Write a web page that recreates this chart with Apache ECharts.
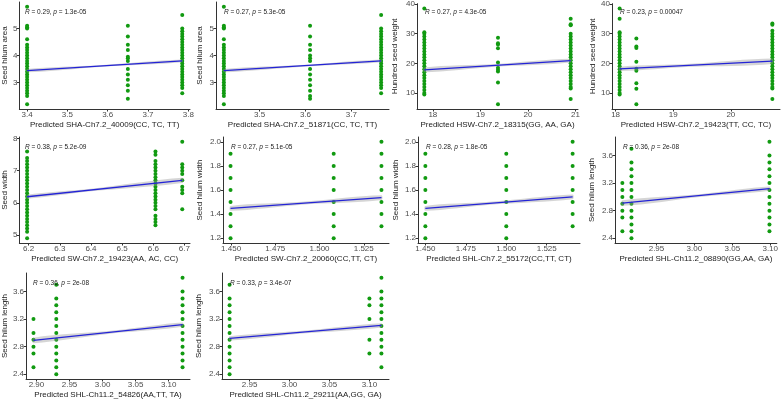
<!DOCTYPE html>
<html>
<head>
<meta charset="utf-8">
<script src="https://cdn.jsdelivr.net/npm/echarts@6/dist/echarts.min.js"></script>
<style>
	html, body { margin: 0; padding: 0; background: #fff; }
	#chart { width: 781px; height: 400px; }
</style>
</head>
<body>
<div id="chart"></div>
<script>
// x values are the predicted genotype means, y lists are the observed values per genotype
const p1X = [3.40, 3.65, 3.785];
const p1Y = [
	[2.2, 2.5, 2.6, 2.7, 2.8, 2.9, 3.0, 3.1, 3.2, 3.3, 3.4, 3.5, 3.6, 3.7, 3.8, 3.9, 4.0, 4.1, 4.2, 4.3, 4.4, 4.6, 5.0, 5.05, 5.1, 5.8],
	[2.4, 2.7, 2.9, 3.1, 3.3, 3.5, 3.8, 3.9, 3.95, 4.2, 4.4, 4.7, 5.1],
	[2.6, 2.8, 2.9, 3.0, 3.1, 3.2, 3.3, 3.4, 3.5, 3.6, 3.7, 3.8, 3.9, 4.0, 4.1, 4.2, 4.3, 4.4, 4.5, 4.6, 4.7, 4.8, 4.9, 5.0, 5.5],
];
const p2X = [3.422, 3.61, 3.765];
const p2Y = [
	[2.2, 2.5, 2.6, 2.7, 2.8, 2.9, 3.0, 3.1, 3.2, 3.3, 3.4, 3.5, 3.6, 3.7, 3.8, 3.9, 4.0, 4.1, 4.2, 4.3, 4.4, 4.6, 5.0, 5.05, 5.1, 5.8],
	[2.4, 2.5, 2.7, 2.9, 3.1, 3.3, 3.5, 3.8, 3.9, 4.0, 4.2, 4.4, 4.7, 5.1],
	[2.6, 2.8, 2.9, 3.0, 3.1, 3.2, 3.3, 3.4, 3.5, 3.6, 3.7, 3.8, 3.9, 4.0, 4.1, 4.2, 4.3, 4.4, 4.5, 4.6, 4.7, 4.8, 4.9, 5.0, 5.5],
];
const p3X = [17.82, 19.37, 20.9];
const p3Y = [
	[9.5, 10, 11, 12, 13, 14, 15, 16, 17, 18, 19, 20, 21, 22, 23, 24, 25, 26, 27, 28, 29, 30, 30.5, 38.5],
	[6.2, 13.5, 17.2, 17.8, 18.5, 20.3, 25.1, 26.3, 26.8, 28.6],
	[8, 11.5, 12, 13, 14, 15, 16, 17, 18, 19, 20, 21, 22, 23, 24, 25, 26, 27, 28, 29, 30, 32.8, 33.2, 35],
];
const p4X = [18.07, 18.36, 20.72];
const p4Y = [
	[9.5, 10, 11, 12, 13, 14, 15, 16, 17, 18, 19, 20, 21, 22, 23, 24, 25, 26, 27, 28, 29, 30, 30.5, 35, 38.5],
	[6.2, 11.4, 13.3, 17.5, 18.2, 20.5, 25.2, 25.7, 28.4],
	[8, 11.5, 12, 13, 14, 15, 16, 17, 18, 19, 20, 21, 22, 23, 24, 25, 26, 27, 28, 29, 30, 31, 33, 33.4],
];
const p5X = [6.195, 6.607, 6.693];
const p5Y = [
	[4.9, 5.1, 5.2, 5.3, 5.4, 5.5, 5.6, 5.7, 5.8, 5.9, 6.0, 6.1, 6.2, 6.3, 6.4, 6.5, 6.6, 6.7, 6.8, 6.9, 7.0, 7.1, 7.2, 7.3, 7.4, 7.6],
	[5.3, 5.4, 5.5, 5.6, 5.8, 5.9, 6.0, 6.1, 6.2, 6.3, 6.4, 6.5, 6.6, 6.7, 6.8, 6.9, 7.0, 7.1, 7.2, 7.3, 7.5, 7.6],
	[5.8, 6.3, 6.4, 6.5, 6.7, 6.9, 7.0, 7.1, 7.2, 7.9],
];
const p6X = [1.4497, 1.508, 1.535];
const p6Y = [
	[1.2, 1.3, 1.4, 1.5, 1.6, 1.7, 1.8, 1.9],
	[1.2, 1.3, 1.4, 1.5, 1.6, 1.7, 1.8, 1.9],
	[1.3, 1.4, 1.5, 1.6, 1.7, 1.8, 1.9, 2.0],
];
const p7X = [1.450, 1.500, 1.541];
const p7Y = [
	[1.2, 1.3, 1.4, 1.5, 1.6, 1.7, 1.8, 1.9],
	[1.2, 1.3, 1.4, 1.5, 1.6, 1.7, 1.8, 1.9],
	[1.3, 1.4, 1.5, 1.6, 1.7, 1.8, 1.9, 2.0],
];
const p8X = [2.905, 2.917, 3.099];
const p8Y = [
	[2.5, 2.7, 2.8, 2.9, 3.0, 3.1, 3.2],
	[2.4, 2.5, 2.6, 2.7, 2.8, 2.9, 3.0, 3.1, 3.2, 3.3, 3.4, 3.5, 3.7],
	[2.5, 2.6, 2.7, 2.8, 2.9, 3.0, 3.1, 3.2, 3.3, 3.4, 3.5, 3.6, 3.8],
];
const p9X = [2.8955, 2.930, 3.121];
const p9Y = [
	[2.5, 2.7, 2.8, 2.9, 3.0, 3.2],
	[2.4, 2.5, 2.6, 2.7, 2.8, 2.9, 3.0, 3.1, 3.2, 3.3, 3.4, 3.5, 3.7],
	[2.5, 2.6, 2.7, 2.8, 2.9, 3.0, 3.1, 3.2, 3.3, 3.4, 3.5, 3.6, 3.8],
];
const p10X = [2.925, 3.100, 3.115];
const p10Y = [
	[2.4, 2.5, 2.6, 2.7, 2.8, 2.9, 3.0, 3.1, 3.2, 3.3, 3.4, 3.5, 3.7],
	[2.7, 2.9, 3.2, 3.4, 3.5],
	[2.5, 2.7, 2.8, 2.9, 3.0, 3.1, 3.2, 3.3, 3.4, 3.5, 3.6, 3.8],
];

// fitted y at the first and last x
const fits = [
	[3.44, 3.80], [3.44, 3.80], [17.8, 20.9], [18.1, 20.7], [6.19, 6.70],
	[1.448, 1.537], [1.448, 1.543], [2.91, 3.12], [2.89, 3.12], [2.92, 3.11],
];
// confidence band: [x, half width]
const bands = [
	[[3.40, 0.06], [3.58, 0.03], [3.785, 0.05]],
	[[3.422, 0.06], [3.60, 0.03], [3.765, 0.05]],
	[[17.82, 0.8], [19.3, 0.45], [20.9, 0.6]],
	[[18.07, 0.7], [19.3, 0.5], [20.72, 0.9]],
	[[6.195, 0.06], [6.40, 0.04], [6.693, 0.08]],
	[[1.4497, 0.02], [1.49, 0.012], [1.535, 0.02]],
	[[1.450, 0.02], [1.49, 0.012], [1.541, 0.02]],
	[[2.905, 0.04], [3.01, 0.02], [3.099, 0.03]],
	[[2.8955, 0.04], [3.02, 0.02], [3.121, 0.03]],
	[[2.925, 0.03], [3.02, 0.02], [3.115, 0.03]],
];
const statR = ["0.29", "0.27", "0.27", "0.23", "0.38", "0.27", "0.28", "0.36", "0.36", "0.33"];
const statP = ["1.3e-05", "5.3e-05", "4.3e-05", "0.00047", "5.2e-09", "5.1e-05", "1.8e-05", "2e-08", "2e-08", "3.4e-07"];
const xNames = [
	"Predicted SHA-Ch7.2_40009(CC, TC, TT)",
	"Predicted SHA-Ch7.2_51871(CC, TC, TT)",
	"Predicted HSW-Ch7.2_18315(GG, AA, GA)",
	"Predicted HSW-Ch7.2_19423(TT, CC, TC)",
	"Predicted SW-Ch7.2_19423(AA, AC, CC)",
	"Predicted SW-Ch7.2_20060(CC,TT, CT)",
	"Predicted SHL-Ch7.2_55172(CC,TT, CT)",
	"Predicted SHL-Ch11.2_08890(GG,AA, GA)",
	"Predicted SHL-Ch11.2_54826(AA,TT, TA)",
	"Predicted SHL-Ch11.2_29211(AA,GG, GA)",
];
const yNames = [
	"Seed hilum area", "Seed hilum area", "Hundred seed weight", "Hundred seed weight", "Seed width",
	"Seed hilum width", "Seed hilum width", "Seed hilum length", "Seed hilum length", "Seed hilum length",
];
const xTicks = [
	[3.4, 3.5, 3.6, 3.7, 3.8], [3.5, 3.6, 3.7], [18, 19, 20, 21], [18, 19, 20], [6.2, 6.3, 6.4, 6.5, 6.6, 6.7],
	[1.450, 1.475, 1.500, 1.525], [1.450, 1.475, 1.500, 1.525], [2.95, 3.00, 3.05, 3.10],
	[2.90, 2.95, 3.00, 3.05, 3.10], [2.95, 3.00, 3.05, 3.10],
];
const yTicks = [
	[3, 4, 5], [3, 4, 5], [10, 20, 30, 40], [10, 20, 30, 40], [5, 6, 7, 8],
	[1.2, 1.4, 1.6, 1.8, 2.0], [1.2, 1.4, 1.6, 1.8, 2.0], [2.4, 2.8, 3.2, 3.6], [2.4, 2.8, 3.2, 3.6], [2.4, 2.8, 3.2, 3.6],
];
const xDec = [1, 1, 0, 0, 1, 3, 3, 2, 2, 2];
const yDec = [0, 0, 0, 0, 0, 1, 1, 1, 1, 1];

// layout: [left, top, width, height, y title distance]
const boxes = [
	[17, 2, 173, 107, 12], [216, 2, 173, 107, 16], [417, 2, 161, 107, 22], [612, 2, 168, 107, 19],
	[17, 137, 173, 106, 12], [223, 137, 166, 106, 23], [418, 137, 162, 106, 22], [615, 137, 165, 106, 23],
	[25, 273, 165, 106, 21], [222, 273, 167, 106, 23],
];

const panelX = [p1X, p2X, p3X, p4X, p5X, p6X, p7X, p8X, p9X, p10X];
const panelY = [p1Y, p2Y, p3Y, p4Y, p5Y, p6Y, p7Y, p8Y, p9Y, p10Y];

const FONT = "Liberation Sans, Arial, sans-serif";
const grids = [], xAxes = [], yAxes = [], series = [], titles = [];

function padRange(values) {
	// ggplot style 5% expansion
	const lo = Math.min(...values), hi = Math.max(...values);
	const pad = (hi - lo) * 0.05;
	return [lo - pad, hi + pad];
}

panelX.forEach((xs, i) => {
	const ys = panelY[i];
	const box = boxes[i];
	const xr = padRange(xs);
	const yr = padRange(ys.flat());
	const fit = fits[i];
	const fitAt = (x) => fit[0] + (fit[1] - fit[0]) * (x - xs[0]) / (xs[xs.length - 1] - xs[0]);

	grids.push({ left: box[0], top: box[1], width: box[2], height: box[3] });
	xAxes.push({
		gridIndex: i, type: "value", min: xr[0], max: xr[1],
		axisLine: { show: true, onZero: false, lineStyle: { color: "#333", width: 1 } },
		axisTick: { show: true, length: 2.5, customValues: xTicks[i], lineStyle: { color: "#333" } },
		axisLabel: {
			customValues: xTicks[i], formatter: (v) => v.toFixed(xDec[i]),
			fontSize: 8, color: "#4d4d4d", margin: 2, fontFamily: FONT,
		},
		splitLine: { show: false },
		name: xNames[i], nameLocation: "middle", nameGap: 12,
		nameTextStyle: { fontSize: 8, color: "#1a1a1a", fontFamily: FONT },
	});
	yAxes.push({
		gridIndex: i, type: "value", min: yr[0], max: yr[1],
		axisLine: { show: true, onZero: false, lineStyle: { color: "#333", width: 1 } },
		axisTick: { show: true, length: 2.5, customValues: yTicks[i], lineStyle: { color: "#333" } },
		axisLabel: {
			customValues: yTicks[i], formatter: (v) => v.toFixed(yDec[i]),
			fontSize: 8, color: "#4d4d4d", margin: 2, fontFamily: FONT,
		},
		splitLine: { show: false },
		name: yNames[i], nameLocation: "middle", nameGap: box[4] - 4,
		nameTextStyle: { fontSize: 8, color: "#1a1a1a", fontFamily: FONT },
	});

	const pts = [];
	ys.forEach((col, k) => col.forEach((v) => pts.push([xs[k], v])));
	series.push({
		type: "scatter", xAxisIndex: i, yAxisIndex: i, data: pts,
		symbolSize: 4, itemStyle: { color: "#119a11", opacity: 1 }, z: 2, silent: true,
	});
	series.push({
		type: "custom", xAxisIndex: i, yAxisIndex: i, data: [0], z: 3, silent: true,
		renderItem: (params, api) => {
			const up = bands[i].map((b) => api.coord([b[0], fitAt(b[0]) + b[1]]));
			const lo = bands[i].map((b) => api.coord([b[0], fitAt(b[0]) - b[1]])).reverse();
			return {
				type: "polygon",
				shape: { points: up.concat(lo), smooth: 0.3 },
				style: { fill: "rgba(150,150,150,0.4)" },
			};
		},
	});
	series.push({
		type: "line", xAxisIndex: i, yAxisIndex: i,
		data: [[xs[0], fit[0]], [xs[xs.length - 1], fit[1]]],
		symbol: "none", lineStyle: { color: "#2424d6", width: 1.3 }, z: 4, silent: true,
	});

	titles.push({
		left: box[0] + 8, top: box[1] + 7, padding: 0,
		text: `{i|R} = ${statR[i]}, {i|p} = ${statP[i]}`,
		textStyle: {
			fontSize: 6.5, fontWeight: "normal", color: "#1a1a1a", fontFamily: FONT,
			rich: { i: { fontStyle: "italic", fontSize: 6.5, color: "#1a1a1a", fontFamily: FONT } },
		},
	});
});

const chart = echarts.init(document.getElementById("chart"), null, { renderer: "canvas" });
chart.setOption({
	animation: false,
	backgroundColor: "#fff",
	title: titles,
	grid: grids,
	xAxis: xAxes,
	yAxis: yAxes,
	series: series,
});
</script>
</body>
</html>
